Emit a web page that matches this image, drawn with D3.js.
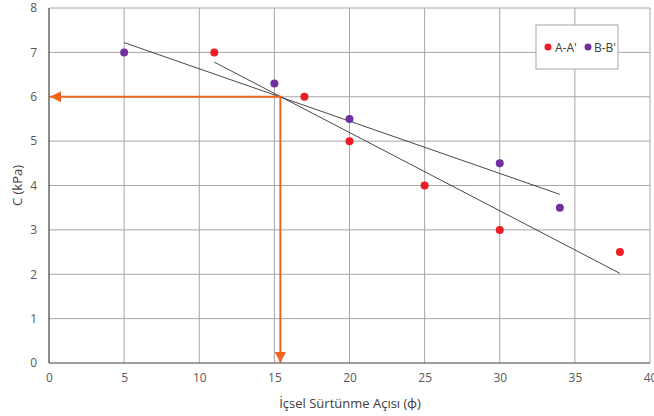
<!DOCTYPE html>
<html><head><meta charset="utf-8">
<script src="https://cdn.jsdelivr.net/npm/d3@7"></script>
<style>body{margin:0;background:#fff}text{font-family:"Open Sans",Lato,sans-serif}</style>
</head><body><svg id="c" width="654" height="416"></svg>
<script>
const seriesNames = ["A-A'", "B-B'"];
const seriesColors = ["#ee1c24", "#7030a0"];
const aX = [11, 17, 20, 25, 30, 38];
const aY = [7, 6, 5, 4, 3, 2.5];
const bX = [5, 15, 20, 30, 34];
const bY = [7, 6.3, 5.5, 4.5, 3.5];
const aTrendX = [11, 38], aTrendY = [6.78, 2.02];
const bTrendX = [5, 34], bTrendY = [7.22, 3.8];
const readX = [15.4], readY = [6];
const xTicks = [0,5,10,15,20,25,30,35,40];
const yTicks = [0,1,2,3,4,5,6,7,8];

const svg = d3.select("#c");
const x = d3.scaleLinear().domain([0,40]).range([49,650]);
const y = d3.scaleLinear().domain([0,8]).range([363,8]);

svg.append("g").selectAll("line").data(xTicks.slice(1)).join("line")
  .attr("x1",d=>x(d)).attr("x2",d=>x(d)).attr("y1",y(0)).attr("y2",y(8))
  .attr("stroke","#a6a6a6").attr("stroke-width",1);
svg.append("g").selectAll("line").data(yTicks.slice(1)).join("line")
  .attr("x1",x(0)).attr("x2",x(40)).attr("y1",d=>y(d)).attr("y2",d=>y(d))
  .attr("stroke","#a6a6a6").attr("stroke-width",1);
svg.append("line").attr("x1",x(0)).attr("x2",x(0)).attr("y1",y(0)).attr("y2",y(8)).attr("stroke","#404040").attr("stroke-width",1.2);
svg.append("line").attr("x1",x(0)).attr("x2",x(40)).attr("y1",y(0)).attr("y2",y(0)).attr("stroke","#404040").attr("stroke-width",1.2);

const xa = svg.append("g").attr("transform",`translate(0,${y(0)})`)
  .call(d3.axisBottom(x).tickValues(xTicks).tickSize(0).tickPadding(10));
xa.select(".domain").remove();
xa.selectAll("text").attr("fill","#595959").style("font-size","12px");
const ya = svg.append("g").attr("transform",`translate(${x(0)},0)`)
  .call(d3.axisLeft(y).tickValues(yTicks).tickSize(0).tickPadding(12));
ya.select(".domain").remove();
ya.selectAll("text").attr("fill","#595959").style("font-size","12px");

svg.append("text").attr("x",350).attr("y",408).attr("text-anchor","middle")
  .attr("fill","#404040").style("font-size","13px").text("İçsel Sürtünme Açısı (ϕ)");
svg.append("text").attr("transform",`translate(22,${(y(0)+y(8))/2}) rotate(-90)`)
  .attr("text-anchor","middle").attr("fill","#404040").style("font-size","13px").text("C (kPa)");

const line = d3.line().x(d=>x(d[0])).y(d=>y(d[1]));
svg.append("path").attr("d",line(d3.zip(bTrendX,bTrendY))).attr("stroke","#333").attr("stroke-width",0.9).attr("fill","none");
svg.append("path").attr("d",line(d3.zip(aTrendX,aTrendY))).attr("stroke","#333").attr("stroke-width",0.9).attr("fill","none");

const orange = "#f0641e";
const defs = svg.append("defs");
defs.append("marker").attr("id","arr").attr("viewBox","0 0 10 10").attr("refX",10).attr("refY",5)
  .attr("markerWidth",7).attr("markerHeight",5.5).attr("markerUnits","strokeWidth").attr("orient","auto")
  .append("path").attr("d","M0,0L10,5L0,10Z").attr("fill",orange);
svg.append("line").attr("x1",x(readX[0])).attr("y1",y(readY[0])).attr("x2",x(0)+1).attr("y2",y(readY[0]))
  .attr("stroke",orange).attr("stroke-width",2).attr("marker-end","url(#arr)");
svg.append("line").attr("x1",x(readX[0])).attr("y1",y(readY[0])-1).attr("x2",x(readX[0])).attr("y2",y(0))
  .attr("stroke",orange).attr("stroke-width",2).attr("marker-end","url(#arr)");

svg.append("g").selectAll("circle").data(d3.zip(bX,bY)).join("circle")
  .attr("cx",d=>x(d[0])).attr("cy",d=>y(d[1])).attr("r",4).attr("fill",seriesColors[1]);
svg.append("g").selectAll("circle").data(d3.zip(aX,aY)).join("circle")
  .attr("cx",d=>x(d[0])).attr("cy",d=>y(d[1])).attr("r",4).attr("fill",seriesColors[0]);

const lg = svg.append("g");
lg.append("rect").attr("x",536).attr("y",25).attr("width",82).attr("height",44)
  .attr("fill","#fff").attr("stroke","#a6a6a6").attr("stroke-width",1);
[[548,555],[588,594]].forEach((p,i)=>{
  lg.append("circle").attr("cx",p[0]).attr("cy",47).attr("r",3.5).attr("fill",seriesColors[i]);
  lg.append("text").attr("x",p[1]).attr("y",51.5).attr("fill","#404040").style("font-size","12px").text(seriesNames[i]);
});
</script></body></html>
